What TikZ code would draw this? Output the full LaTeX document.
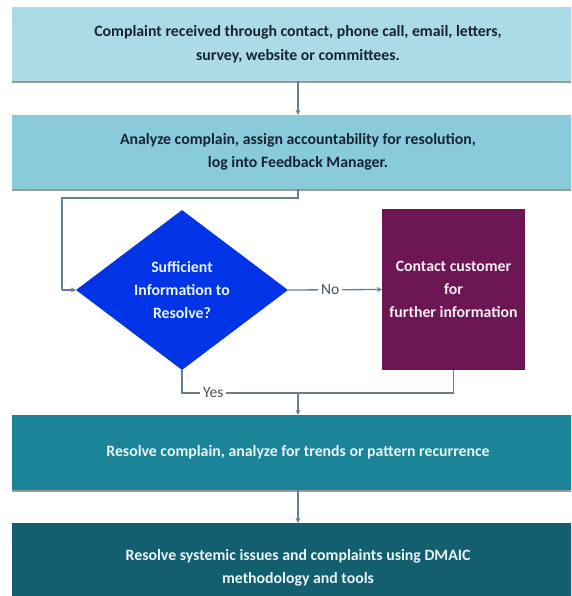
\documentclass[tikz,border=0pt]{standalone}
\usepackage{fontspec}
\setmainfont{Carlito}
\usetikzlibrary{shapes.geometric,arrows.meta}
\definecolor{boxA}{RGB}{172,219,231}
\definecolor{boxB}{RGB}{138,203,219}
\definecolor{boxC}{RGB}{28,132,152}
\definecolor{boxD}{RGB}{19,94,111}
\definecolor{decblue}{RGB}{0,52,230}
\definecolor{plum}{RGB}{108,22,84}
\definecolor{linec}{RGB}{100,128,146}
\definecolor{darktxt}{RGB}{24,36,50}
\definecolor{lighttxt}{RGB}{232,244,248}
\tikzset{
  stage/.style={rectangle, inner sep=0pt, minimum width=572pt, align=center,
    font=\fontsize{15.8}{23.5}\selectfont\bfseries,
    preaction={fill=black!40, transform canvas={yshift=-2pt}}},
  decision/.style={diamond, fill=decblue, inner sep=0pt, minimum width=212pt,
    minimum height=160pt, align=center, text=lighttxt,
    font=\fontsize{15.8}{23}\selectfont\bfseries},
  actbox/.style={rectangle, fill=plum, inner sep=0pt, minimum width=143pt,
    minimum height=161pt, align=center, text=white!92!plum,
    font=\fontsize{15.8}{23}\selectfont\bfseries},
  conn/.style={draw=linec, line width=1.3pt},
  flow/.style={conn, -{Stealth[length=5pt,width=5pt]}},
  lbl/.style={fill=white, text=darktxt!80, inner sep=3pt,
    font=\fontsize{15.5}{18}\selectfont}
}
\begin{document}
\begin{tikzpicture}[x=1pt,y=-1pt]
\useasboundingbox (0,0) rectangle (571,596);
\clip (0,0) rectangle (571,596);
\fill[white] (0,0) rectangle (571,596);

% process stages
\node[stage, fill=boxA, text=darktxt, minimum height=74pt] (recv) at (298,44)
  {Complaint received through contact, phone call, email, letters,\\survey, website or committees.};
\node[stage, fill=boxB, text=darktxt, minimum height=74pt] (analyze) at (298,152)
  {Analyze complain, assign accountability for resolution,\\log into Feedback Manager.};
\node[stage, fill=boxC, text=lighttxt, minimum height=75pt] (resolve) at (298,452.5)
  {Resolve complain, analyze for trends or pattern recurrence};
\node[stage, fill=boxD, text=lighttxt, minimum height=90pt] (dmaic) at (298,568)
  {Resolve systemic issues and complaints using DMAIC\\methodology and tools};

% decision and follow-up
\node[decision] (enough) at (182,290) {Sufficient\\Information to\\Resolve?};
\node[actbox] (contact) at (453.5,289.5) {Contact customer\\for\\further information};

% routing points
\coordinate (split) at (298,198);
\coordinate (loopcorner) at (62,198);
\coordinate (loopin) at (62,290);
\coordinate (join) at (298,393);
\coordinate (yescorner) at (enough.south |- join);

% connectors
\draw[flow] (recv.south) -- (analyze.north);
\draw[conn] (analyze.south -| split) -- (split) -- (loopcorner) -- (loopin);
\draw[flow] (loopin) -- (enough.west);
\draw[flow] (enough.east) -- node[lbl, pos=0.45] {No} (contact.west);
\draw[conn] (enough.south) -- (yescorner) -- node[lbl, pos=0.27] {Yes} (join);
\draw[conn] (contact.south) |- (join);
\draw[flow] (join) -- (resolve.north);
\draw[flow] (resolve.south) -- (dmaic.north);
\end{tikzpicture}
\end{document}
